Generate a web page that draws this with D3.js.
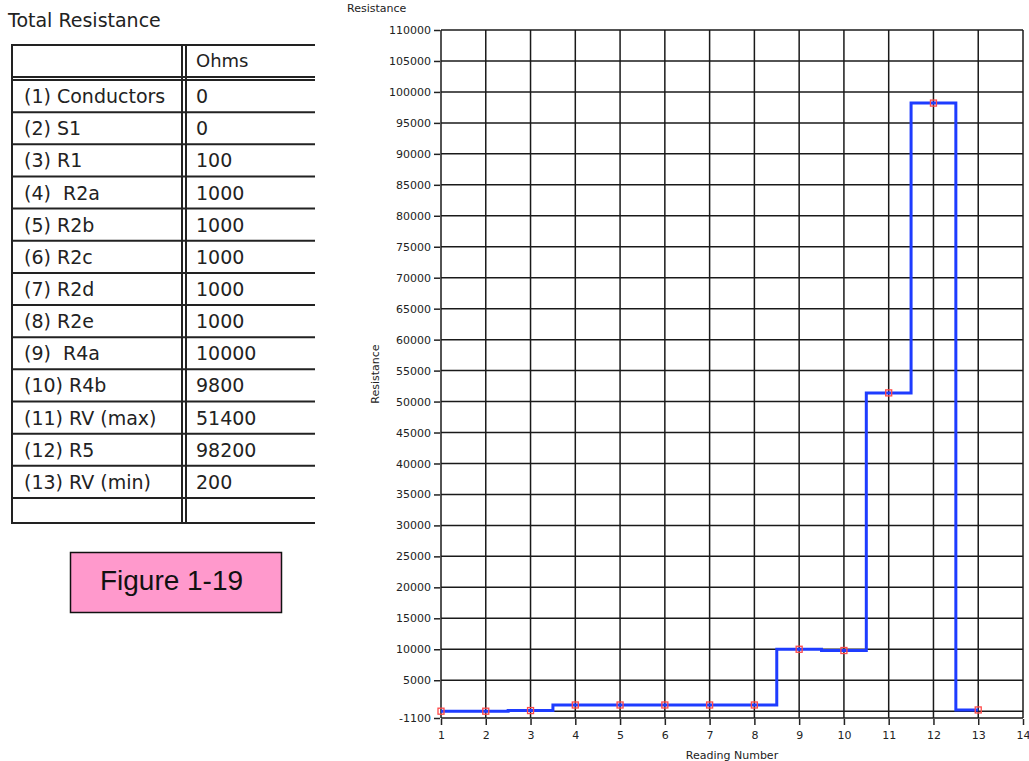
<!DOCTYPE html>
<html>
<head>
<meta charset="utf-8">
<script src="https://cdn.jsdelivr.net/npm/d3@7"></script>
<style>
  body { margin: 0; background: #fff; }
  svg { display: block; }
  text { font-family: "DejaVu Sans", sans-serif; fill: #222; }
</style>
</head>
<body>
<svg id="chart" width="1029" height="761"></svg>
<script>
// readings plotted on the chart
const readings = [1, 2, 3, 4, 5, 6, 7, 8, 9, 10, 11, 12, 13];
const resistance = [0, 0, 100, 1000, 1000, 1000, 1000, 1000, 10000, 9800, 51400, 98200, 200];

// table on the left
const tableLabels = ["(1) Conductors", "(2) S1", "(3) R1", "(4)  R2a", "(5) R2b", "(6) R2c",
    "(7) R2d", "(8) R2e", "(9)  R4a", "(10) R4b", "(11) RV (max)", "(12) R5", "(13) RV (min)"];
const tableOhms = ["0", "0", "100", "1000", "1000", "1000", "1000", "1000", "10000", "9800", "51400", "98200", "200"];

// axis ticks
const yTicks = [-1100, 0, 5000, 10000, 15000, 20000, 25000, 30000, 35000, 40000, 45000, 50000, 55000,
    60000, 65000, 70000, 75000, 80000, 85000, 90000, 95000, 100000, 105000, 110000];
const xTicks = [1, 2, 3, 4, 5, 6, 7, 8, 9, 10, 11, 12, 13, 14];

const svg = d3.select("#chart");

// ---- left panel ----
svg.append("text")
    .attr("x", 8).attr("y", 27)
    .style("font-size", "19px")
    .text("Total Resistance");

const tbl = svg.append("g");
const tLeft = 12, tMid1 = 182, tMid2 = 186, tRight = 315;
const rowH = 32.15, bodyTop = 80;
const rowY = i => bodyTop + i * rowH;

// horizontal lines
const hLines = [45, 77].concat(tableLabels.map((d, i) => rowY(i))).concat([rowY(tableLabels.length), 523]);
tbl.selectAll("line.h")
    .data(hLines)
    .enter()
    .append("line")
    .attr("x1", tLeft).attr("x2", tRight)
    .attr("y1", d => d).attr("y2", d => d)
    .attr("stroke", "#222").attr("stroke-width", 2);

// vertical lines (double line between columns)
tbl.selectAll("line.v")
    .data([tLeft, tMid1, tMid2])
    .enter()
    .append("line")
    .attr("x1", d => d).attr("x2", d => d)
    .attr("y1", 44).attr("y2", 524)
    .attr("stroke", "#222").attr("stroke-width", 2);

tbl.append("text")
    .attr("x", 196).attr("y", 67)
    .style("font-size", "18px")
    .text("Ohms");

tbl.selectAll("text.lab")
    .data(tableLabels)
    .enter()
    .append("text")
    .attr("x", 24)
    .attr("y", (d, i) => rowY(i) + rowH / 2 + 7)
    .style("font-size", "19px")
    .style("white-space", "pre")
    .text(d => d);

tbl.selectAll("text.val")
    .data(tableOhms)
    .enter()
    .append("text")
    .attr("x", 196)
    .attr("y", (d, i) => rowY(i) + rowH / 2 + 7)
    .style("font-size", "19px")
    .text(d => d);

// figure label box
svg.append("rect")
    .attr("x", 70.5).attr("y", 552.5)
    .attr("width", 211).attr("height", 60)
    .attr("fill", "#ff99cc")
    .attr("stroke", "#111").attr("stroke-width", 1.5);

svg.append("text")
    .attr("x", 171.5).attr("y", 590)
    .attr("text-anchor", "middle")
    .style("font-family", "'Liberation Sans', Arial, sans-serif")
    .style("font-size", "28px")
    .style("fill", "#111")
    .text("Figure 1-19");

// ---- chart ----
const x = d3.scaleLinear().domain([1, 14]).range([441, 1023]);
const y = d3.scaleLinear().domain([-1100, 110000]).range([718, 30]);

const grid = svg.append("g");
grid.selectAll("line.gx")
    .data(xTicks)
    .enter()
    .append("line")
    .attr("x1", d => x(d)).attr("x2", d => x(d))
    .attr("y1", y(110000)).attr("y2", y(-1100))
    .attr("stroke", "#1a1a1a").attr("stroke-width", 1.5);

grid.selectAll("line.gy")
    .data(yTicks)
    .enter()
    .append("line")
    .attr("x1", x(1)).attr("x2", x(14))
    .attr("y1", d => y(d)).attr("y2", d => y(d))
    .attr("stroke", "#1a1a1a").attr("stroke-width", 1.5);

const yAxis = d3.axisLeft(y)
    .tickValues(yTicks.filter(d => d !== 0))
    .tickFormat(d => String(d))
    .tickSize(6)
    .tickPadding(3);

const xAxis = d3.axisBottom(x)
    .tickValues(xTicks)
    .tickFormat(d => String(d))
    .tickSize(6)
    .tickPadding(6);

const gy = svg.append("g").attr("transform", `translate(${x(1) - 1},0)`).call(yAxis);
const gx = svg.append("g").attr("transform", `translate(0,${y(-1100) + 1})`).call(xAxis);

[gy, gx].forEach(g => {
    g.select(".domain").remove();
    g.selectAll(".tick line").attr("stroke", "#222").attr("stroke-width", 1.5);
    g.selectAll(".tick text")
        .style("font-family", "'DejaVu Sans', sans-serif")
        .style("font-size", "11px")
        .attr("fill", "#222");
});

// step line
const pts = readings.map((r, i) => [r, resistance[i]]);
const line = d3.line()
    .x(d => x(d[0]))
    .y(d => y(d[1]))
    .curve(d3.curveStep);

svg.append("path")
    .datum(pts)
    .attr("d", line)
    .attr("fill", "none")
    .attr("stroke", "#1e3cff")
    .attr("stroke-width", 3);

svg.selectAll("rect.mark")
    .data(pts)
    .enter()
    .append("rect")
    .attr("x", d => x(d[0]) - 3)
    .attr("y", d => y(d[1]) - 3)
    .attr("width", 6).attr("height", 6)
    .attr("fill", "none")
    .attr("stroke", "#ff4a4a")
    .attr("stroke-width", 1.3);

// axis titles
svg.append("text")
    .attr("x", 347).attr("y", 12)
    .style("font-size", "11px")
    .text("Resistance");

svg.append("text")
    .attr("transform", `translate(379,${(y(110000) + y(-1100)) / 2}) rotate(-90)`)
    .attr("text-anchor", "middle")
    .style("font-size", "11px")
    .text("Resistance");

svg.append("text")
    .attr("x", (x(1) + x(14)) / 2).attr("y", 759)
    .attr("text-anchor", "middle")
    .style("font-size", "11px")
    .text("Reading Number");
</script>
</body>
</html>
